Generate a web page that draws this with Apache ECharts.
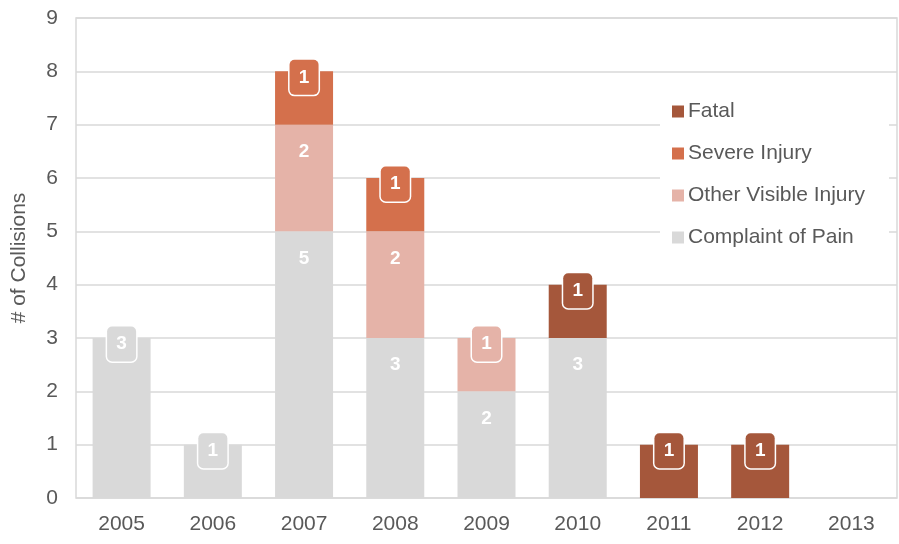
<!DOCTYPE html>
<html>
<head>
<meta charset="utf-8">
<script src="https://cdn.jsdelivr.net/npm/echarts@6/dist/echarts.min.js"></script>
<style>
  html, body { margin: 0; padding: 0; background: #fff; }
  #chart { width: 899px; height: 544px; }
</style>
</head>
<body>
<div id="chart"></div>
<script>
// Collisions by year and severity
const years = ['2005', '2006', '2007', '2008', '2009', '2010', '2011', '2012', '2013'];
const complaintOfPain = [3, 1, 5, 3, 2, 3, 0, 0, 0];
const otherVisibleInjury = [0, 0, 2, 2, 1, 0, 0, 0, 0];
const severeInjury = [0, 0, 1, 1, 0, 0, 0, 0, 0];
const fatal = [0, 0, 0, 0, 0, 1, 1, 1, 0];
const yTicks = [0, 1, 2, 3, 4, 5, 6, 7, 8, 9];

const seriesDefs = [
  { name: 'Complaint of Pain', data: complaintOfPain, color: '#d9d9d9' },
  { name: 'Other Visible Injury', data: otherVisibleInjury, color: '#e5b3a8' },
  { name: 'Severe Injury', data: severeInjury, color: '#d4704c' },
  { name: 'Fatal', data: fatal, color: '#a5573b' }
];

const FONT = '"Liberation Sans", Arial, sans-serif';
const TEXT = '#595959';

// index of the top non-empty segment in each year's stack
const topIndex = years.map((_, i) => {
  let top = -1;
  seriesDefs.forEach((s, k) => { if (s.data[i] > 0) top = k; });
  return top;
});

const series = seriesDefs.map((s, k) => ({
  name: s.name,
  type: 'bar',
  stack: 'total',
  barWidth: 58,
  itemStyle: { color: s.color },
  emphasis: { disabled: true },
  data: s.data.map((v, i) => {
    if (v === 0) return { value: v, label: { show: false } };
    const isTop = topIndex[i] === k;
    const label = isTop ? {
      show: true,
      position: ['50%', 6],
      align: 'center',
      verticalAlign: 'middle',
      color: '#fff',
      fontFamily: FONT,
      fontWeight: 'bold',
      fontSize: 19,
      backgroundColor: s.color,
      borderColor: '#fff',
      borderWidth: 1.5,
      borderRadius: 5,
      width: 29,
      height: 35,
      lineHeight: 35
    } : {
      show: true,
      position: ['50%', 27],
      align: 'center',
      verticalAlign: 'middle',
      color: '#fff',
      fontFamily: FONT,
      fontWeight: 'bold',
      fontSize: 19
    };
    return { value: v, label: label };
  })
}));

const chart = echarts.init(document.getElementById('chart'), null, { renderer: 'canvas' });
chart.setOption({
  animation: false,
  backgroundColor: '#fff',
  grid: {
    left: 76, right: 2, top: 18, bottom: 46,
    show: true, borderColor: '#d9d9d9', borderWidth: 1.5
  },
  legend: {
    data: ['Fatal', 'Severe Injury', 'Other Visible Injury', 'Complaint of Pain'],
    orient: 'vertical',
    left: 660,
    top: 90,
    backgroundColor: '#fff',
    padding: [11, 24, 14, 12],
    itemWidth: 12,
    itemHeight: 12,
    itemGap: 21,
    icon: 'rect',
    textStyle: { color: TEXT, fontFamily: FONT, fontSize: 21, padding: [0, 0, 0, -1] }
  },
  xAxis: {
    type: 'category',
    data: years,
    axisLine: { show: false },
    axisTick: { show: false },
    axisLabel: { color: TEXT, fontFamily: FONT, fontSize: 21, margin: 16 }
  },
  yAxis: {
    type: 'value',
    min: yTicks[0],
    max: yTicks[yTicks.length - 1],
    interval: 1,
    name: '# of Collisions',
    nameLocation: 'middle',
    nameGap: 46,
    nameTextStyle: { color: TEXT, fontFamily: FONT, fontSize: 21 },
    axisLine: { show: false },
    axisTick: { show: false },
    axisLabel: { color: TEXT, fontFamily: FONT, fontSize: 21, margin: 18 },
    splitLine: { lineStyle: { color: '#d9d9d9', width: 1.5 } }
  },
  series: series
});
</script>
</body>
</html>
